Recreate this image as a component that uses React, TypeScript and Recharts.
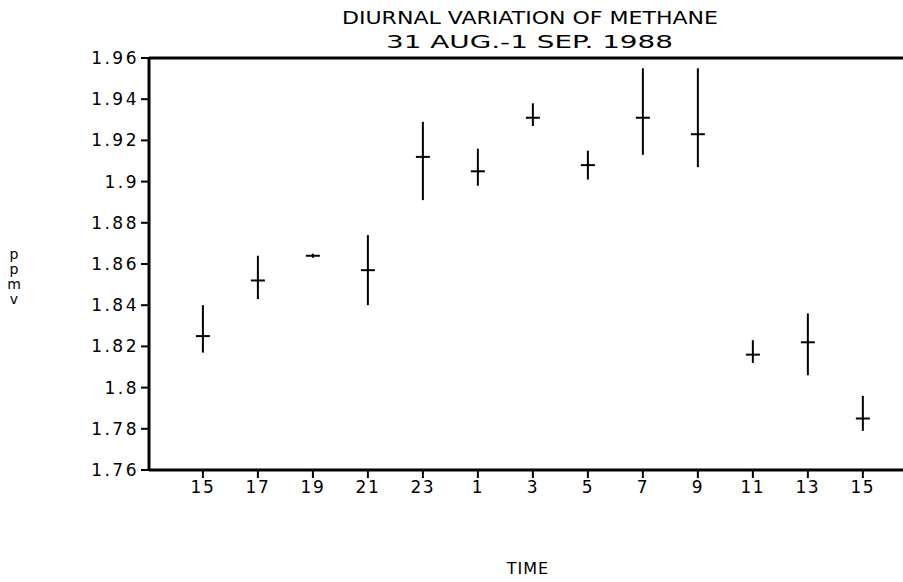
import React from "react";
import {
  ScatterChart,
  Scatter,
  XAxis,
  YAxis,
  ErrorBar,
  ReferenceLine,
} from "recharts";

// hour of day, 31 Aug 15:00 through 1 Sep 15:00
const hours = ["15", "17", "19", "21", "23", "1", "3", "5", "7", "9", "11", "13", "15"];
const methane = [1.825, 1.852, 1.864, 1.857, 1.912, 1.905, 1.931, 1.908, 1.931, 1.923, 1.816, 1.822, 1.785];
const upper = [1.840, 1.864, 1.865, 1.874, 1.929, 1.916, 1.938, 1.915, 1.955, 1.955, 1.823, 1.836, 1.796];
const lower = [1.817, 1.843, 1.863, 1.840, 1.891, 1.898, 1.927, 1.901, 1.913, 1.907, 1.812, 1.806, 1.779];
const yTicks = [1.76, 1.78, 1.8, 1.82, 1.84, 1.86, 1.88, 1.9, 1.92, 1.94, 1.96];

const data = hours.map((h, i) => ({
  x: i,
  y: methane[i],
  err: [methane[i] - lower[i], upper[i] - methane[i]],
}));

const font = "'DejaVu Sans', sans-serif";

const Cross = (props: any) => {
  const { cx, cy } = props;
  return <line x1={cx - 7} x2={cx + 7} y1={cy} y2={cy} stroke="#000" strokeWidth={2} />;
};

export default function App() {
  return (
    <div style={{ position: "absolute", left: 0, top: 0, width: 903, height: 582, background: "#fff" }}>
      <ScatterChart width={903} height={582} margin={{ top: 58, right: 0, bottom: 82, left: 0 }}>
        <XAxis
          type="number"
          dataKey="x"
          domain={[-0.98, 12.73]}
          ticks={hours.map((_, i) => i)}
          tickFormatter={(v) => hours[v]}
          allowDataOverflow
          height={30}
          stroke="#000"
          axisLine={{ stroke: "#000", strokeWidth: 3 }}
          tickLine={{ stroke: "#000", strokeWidth: 2 }}
          tickSize={8}
          tickMargin={3}
          tick={{ fill: "#000", fontSize: 17, fontFamily: font, letterSpacing: 1.5 }}
        />
        <YAxis
          type="number"
          dataKey="y"
          domain={[1.76, 1.96]}
          ticks={yTicks}
          tickFormatter={(v) => String(Number(v.toFixed(2)))}
          allowDataOverflow
          width={149}
          stroke="#000"
          axisLine={{ stroke: "#000", strokeWidth: 3 }}
          tickLine={{ stroke: "#000", strokeWidth: 2 }}
          tickSize={8}
          tickMargin={2}
          tick={{ fill: "#000", fontSize: 17, fontFamily: font, letterSpacing: 2.5 }}
        />
        <ReferenceLine y={1.96} stroke="#000" strokeWidth={3} />
        <Scatter data={data} shape={<Cross />} isAnimationActive={false}>
          <ErrorBar dataKey="err" direction="y" width={0} stroke="#000" strokeWidth={2} isAnimationActive={false} />
        </Scatter>
      </ScatterChart>
      <svg width={903} height={582} style={{ position: "absolute", left: 0, top: 0, pointerEvents: "none" }}>
        <g fontFamily={font} fill="#000">
          <text x={342} y={24} fontSize={18} textLength={376} lengthAdjust="spacingAndGlyphs">
            DIURNAL VARIATION OF METHANE
          </text>
          <text x={386} y={48} fontSize={18} textLength={287} lengthAdjust="spacingAndGlyphs">
            31 AUG.-1 SEP. 1988
          </text>
          <text x={528} y={574} fontSize={16} textAnchor="middle" letterSpacing={1}>TIME</text>
          <g fontSize={14} textAnchor="middle">
            <text x={14} y={259}>p</text>
            <text x={14} y={274}>p</text>
            <text x={14} y={289}>m</text>
            <text x={14} y={304}>v</text>
          </g>
        </g>
      </svg>
    </div>
  );
}
